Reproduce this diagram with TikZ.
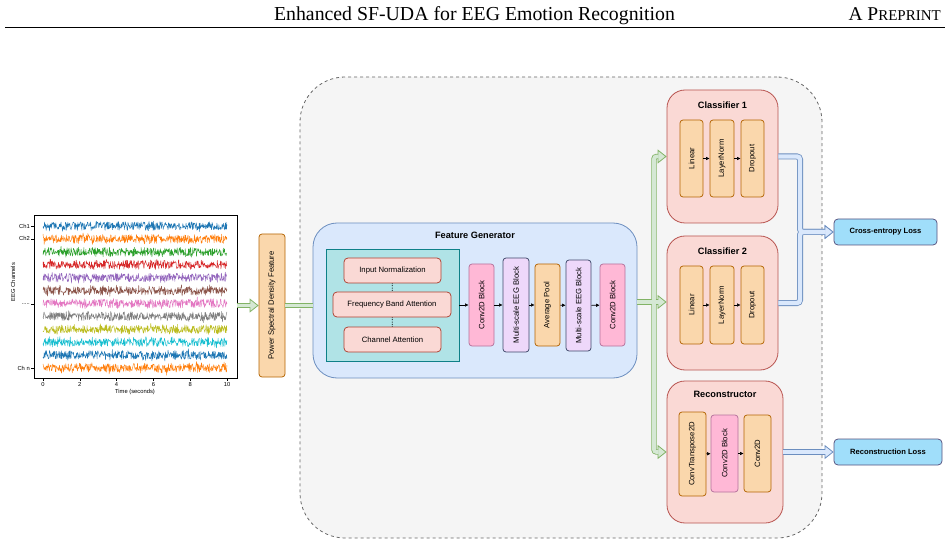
\documentclass[tikz,border=0pt]{standalone}
\usepackage{fontspec}
\setmainfont{Liberation Serif}
\setsansfont{Liberation Sans}
\usetikzlibrary{arrows.meta,calc}

\definecolor{srcfill}{HTML}{F5F5F5}
\definecolor{srcline}{HTML}{666666}
\definecolor{fgfill}{HTML}{DAE8FC}
\definecolor{fgline}{HTML}{6C8EBF}
\definecolor{tealfill}{HTML}{B0E3E6}
\definecolor{tealline}{HTML}{0E8088}
\definecolor{redfill}{HTML}{FAD9D5}
\definecolor{redline}{HTML}{AE4132}
\definecolor{clsfill}{HTML}{FAD9D5}
\definecolor{clsline}{HTML}{B85450}
\definecolor{orfill}{HTML}{FAD7AC}
\definecolor{orline}{HTML}{B46504}
\definecolor{pkfill}{HTML}{FFB8D6}
\definecolor{pkline}{HTML}{B5739D}
\definecolor{pufill}{HTML}{EED8FA}
\definecolor{puline}{HTML}{3F4A6B}
\definecolor{lossfill}{HTML}{A0DEFA}
\definecolor{lossline}{HTML}{56517E}
\definecolor{gfill}{HTML}{D5E8D4}
\definecolor{gline}{HTML}{82B366}
\definecolor{tb}{HTML}{1F77B4}
\definecolor{to}{HTML}{FF7F0E}
\definecolor{tg}{HTML}{2CA02C}
\definecolor{tr}{HTML}{D62728}
\definecolor{tp}{HTML}{9467BD}
\definecolor{tn}{HTML}{8C564B}
\definecolor{tk}{HTML}{E377C2}
\definecolor{ty}{HTML}{7F7F7F}
\definecolor{tl}{HTML}{BCBD22}
\definecolor{tc}{HTML}{17BECF}

\begin{document}
\begin{tikzpicture}[x=1pt,y=-1pt,
  box/.style={draw, rounded corners=3pt, line width=0.75pt, inner sep=0pt, align=center, font=\sffamily\fontsize{7.7}{9}\selectfont},
  orbox/.style={box, fill=orfill, draw=orline},
  pkbox/.style={box, fill=pkfill, draw=pkline},
  pubox/.style={box, fill=pufill, draw=puline},
  attbox/.style={box, fill=redfill, draw=redline, rounded corners=4pt},
  grp/.style={draw=clsline, fill=clsfill, line width=0.8pt, rounded corners=18pt, inner sep=0pt},
  ttl/.style={font=\sffamily\bfseries\fontsize{9.2}{11}\selectfont},
  loss/.style={box, fill=lossfill, draw=lossline, rounded corners=4pt, font=\sffamily\bfseries\fontsize{7.6}{9}\selectfont},
  blk/.style={-{Latex[length=3.5pt,width=3.5pt]}, line width=0.6pt},
  gout/.style={gline, line width=5.4pt, rounded corners=2.5pt, -{Triangle[length=9pt,width=14pt,line width=0.8pt,fill=gfill]}},
  gin/.style={gfill, line width=3.8pt, rounded corners=2.5pt, shorten >=8pt},
  bout/.style={fgline, line width=6pt, rounded corners=3pt, -{Triangle[length=9pt,width=14pt,line width=0.8pt,fill=fgfill]}},
  bin/.style={fgfill, line width=4.4pt, rounded corners=3pt, shorten >=8pt},
  tck/.style={font=\sffamily\fontsize{5.8}{7}\selectfont, inner sep=1pt}
]
\useasboundingbox (0,0) rectangle (950,545);

% page header
\node[anchor=base, font=\fontsize{19.8}{22}\selectfont, inner sep=0pt] (hdr) at (474.5,21) {Enhanced SF-UDA for EEG Emotion Recognition};
\node[anchor=base east, font=\fontsize{19.5}{22}\selectfont, inner sep=0pt] (prep) at (941,21) {A P{\fontsize{15}{18}\selectfont REPRINT}};
\draw[line width=1.3pt] (5,27.5) -- (945,27.5);

% EEG traces
\pgfmathsetseed{11}
\foreach \col [count=\k from 0] in {tb,to,tg,tr,tp,tn,tk,ty,tl,tc,tb,to}
  \draw[\col, line width=0.45pt, line join=round] plot[domain=0:10, samples=460] ({43+18.4*\x},{226+12.9*\k+4.3*rand+3.5*rand*rand*rand});
\node[draw, line width=0.7pt, minimum width=203, minimum height=163, inner sep=0pt] (eegax) at (135.5,296.5) {};
\foreach \t/\lab in {226/Ch1,238.9/Ch2,368/Ch n} {
  \draw[line width=0.5pt] (31,\t) -- (34,\t);
  \node[tck, anchor=east] at (31,\t) {\lab};
}
\draw[line width=0.5pt] (31,304) -- (34,304);
\node[tck, anchor=east] at (31,304) {.....};
\foreach \v in {0,2,4,6,8,10} {
  \draw[line width=0.5pt] ({43+18.4*\v},378) -- ({43+18.4*\v},381);
  \node[tck, anchor=north] at ({43+18.4*\v},381) {\v};
}
\node[tck] at (135,392) {Time (seconds)};
\node[tck, rotate=90] at (13,282) {EEG Channels};

% source-free model
\node[draw=srcline, fill=srcfill, dashed, dash pattern=on 3pt off 3pt, line width=0.8pt, rounded corners=45pt, minimum width=522, minimum height=461, inner sep=0pt] (srcfree) at (561,307.5) {};

\node[orbox, rotate=90, minimum width=143, minimum height=26] (psd) at (272,305.5) {Power Spectral Density Feature};

% feature generator
\node[draw=fgline, fill=fgfill, line width=0.8pt, rounded corners=24pt, minimum width=324, minimum height=155, inner sep=0pt] (fg) at (475,300.5) {};
\node[ttl] at ($(fg.north)+(0,13)$) {Feature Generator};
\node[draw=tealline, fill=tealfill, line width=0.8pt, minimum width=133, minimum height=112, inner sep=0pt] (att) at (392.5,305) {};
\node[attbox, minimum width=97, minimum height=25] (inorm) at (392.5,270.5) {Input Normalization};
\node[attbox, minimum width=118, minimum height=25] (fba) at (392,304.5) {Frequency Band Attention};
\node[attbox, minimum width=97, minimum height=25] (chatt) at (392.5,339.5) {Channel Attention};
\draw[densely dotted, line width=0.7pt] (inorm) -- (fba);
\draw[densely dotted, line width=0.7pt] (fba) -- (chatt);

\node[pkbox, rotate=90, minimum width=82, minimum height=25] (conva) at (481.5,305) {Conv2D Block};
\node[pubox, rotate=90, minimum width=94, minimum height=26] (msa) at (516,305) {Multi-scale EEG Block};
\node[orbox, rotate=90, minimum width=82, minimum height=25] (pool) at (547.5,305) {Average Pool};
\node[pubox, rotate=90, minimum width=91, minimum height=25] (msb) at (578.5,305.5) {Multi-scale EEG Block};
\node[pkbox, rotate=90, minimum width=82, minimum height=25] (convb) at (612.5,305) {Conv2D Block};
\draw[blk] (att) -- (conva);
\draw[blk] (conva) -- (msa);
\draw[blk] (msa) -- (pool);
\draw[blk] (pool) -- (msb);
\draw[blk] (msb) -- (convb);

% classifiers
\node[grp, minimum width=111, minimum height=133] (clsa) at (722.5,156.5) {};
\node[ttl] at ($(clsa.north)+(0,16)$) {Classifier 1};
\node[orbox, rotate=90, minimum width=77, minimum height=23] (lina) at (691.5,158.5) {Linear};
\node[orbox, rotate=90, minimum width=77, minimum height=24] (lna) at (722,158.5) {LayerNorm};
\node[orbox, rotate=90, minimum width=77, minimum height=23] (dra) at (752.5,158.5) {Dropout};
\draw[blk] (lina) -- (lna);
\draw[blk] (lna) -- (dra);

\node[grp, minimum width=111, minimum height=134] (clsb) at (722.5,303) {};
\node[ttl] at ($(clsb.north)+(0,16)$) {Classifier 2};
\node[orbox, rotate=90, minimum width=78, minimum height=23] (linb) at (691.5,305) {Linear};
\node[orbox, rotate=90, minimum width=78, minimum height=24] (lnb) at (722,305) {LayerNorm};
\node[orbox, rotate=90, minimum width=78, minimum height=23] (drb) at (752.5,305) {Dropout};
\draw[blk] (linb) -- (lnb);
\draw[blk] (lnb) -- (drb);

% reconstructor
\node[grp, minimum width=116, minimum height=142] (rec) at (725,452) {};
\node[ttl] at ($(rec.north)+(0,14)$) {Reconstructor};
\node[orbox, rotate=90, minimum width=84, minimum height=27] (ctr) at (692.5,454) {ConvTranspose2D};
\node[pkbox, rotate=90, minimum width=77, minimum height=27] (cblk) at (724.5,453.5) {Conv2D Block};
\node[orbox, rotate=90, minimum width=77, minimum height=27] (cout) at (757.5,453.5) {Conv2D};
\draw[blk] (ctr) -- (cblk);
\draw[blk] (cblk) -- (cout);

% losses
\node[loss, minimum width=103, minimum height=26] (celoss) at (885.5,232) {Cross-entropy Loss};
\node[loss, minimum width=108, minimum height=26] (recloss) at (888,452) {Reconstruction Loss};

% wide arrows
\coordinate (split) at (654,302);
\coordinate (merge) at (800,232);
\draw[gout] (eegax.east |- psd.center) -- (psd.north);
\draw[gout, -] (psd.south) -- (fg.west |- psd.south);
\draw[gout] (fg.east |- split) -- (split) |- (clsa.west);
\draw[gout] (fg.east |- split) -- (clsb.west |- split);
\draw[gout] (fg.east |- split) -- (split) |- (rec.west);
\draw[bout] (clsa.east) -| (merge) -- (celoss.west);
\draw[bout] (clsb.east) -| (merge) -- (celoss.west);
\draw[bout] (rec.east) -- (recloss.west);
\draw[gin] (eegax.east |- psd.center) -- (psd.north);
\draw[gin, shorten >=0pt] (psd.south) -- (fg.west |- psd.south);
\draw[gin] (fg.east |- split) -- (split) |- (clsa.west);
\draw[gin] (fg.east |- split) -- (clsb.west |- split);
\draw[gin] (fg.east |- split) -- (split) |- (rec.west);
\draw[bin] (clsa.east) -| (merge) -- (celoss.west);
\draw[bin] (clsb.east) -| (merge) -- (celoss.west);
\draw[bin] (rec.east) -- (recloss.west);
\end{tikzpicture}
\end{document}
